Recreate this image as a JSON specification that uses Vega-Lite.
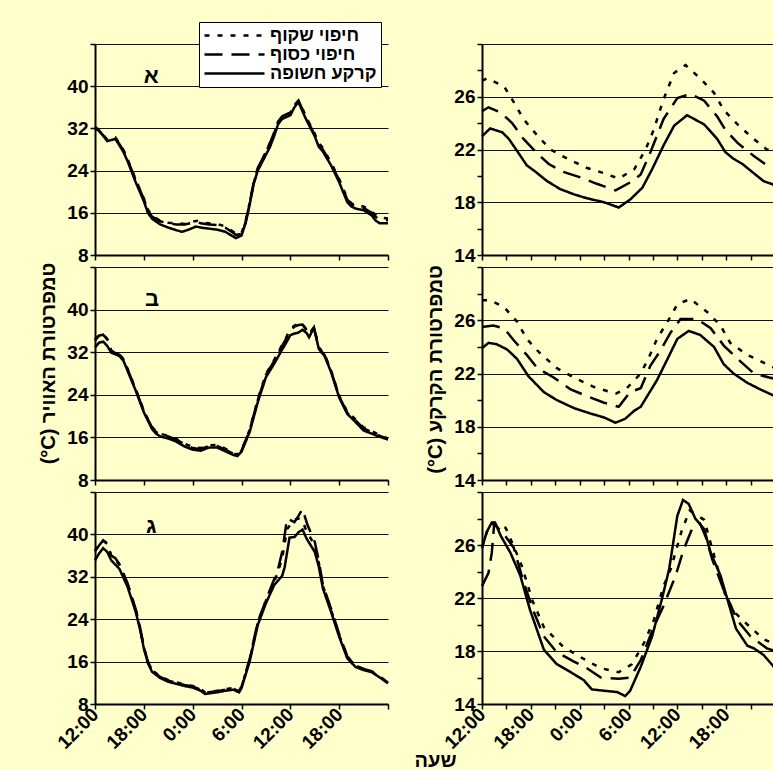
{
"$schema": "https://vega.github.io/schema/vega-lite/v6.json",
"background": "#FFFFCC",
"padding": {"left": 38, "top": 21, "right": 0, "bottom": 0},
"config": {
  "view": {"stroke": null},
  "font": "Liberation Sans",
  "axis": {"labelFont": "Liberation Sans", "labelFontSize": 19, "labelFontWeight": "bold", "labelColor": "#000", "titleFont": "Liberation Sans", "titleFontSize": 20, "titleFontWeight": "bold", "titleColor": "#000", "domainColor": "#000", "domainWidth": 2, "tickColor": "#000", "tickWidth": 1.5, "tickSize": 5, "gridColor": "#111", "gridWidth": 1, "labelOverlap": false, "labelFlush": false, "labelPadding": 2}
},
"datasets": {
"a1": [
{"s":"B","h":0,"v":32.0},{"s":"B","h":0.5,"v":31.5},{"s":"B","h":1,"v":30.6},{"s":"B","h":1.5,"v":29.6},{"s":"B","h":2,"v":29.8},{"s":"B","h":2.5,"v":30.0},{"s":"B","h":3,"v":28.8},{"s":"B","h":3.5,"v":27.5},{"s":"B","h":4,"v":25.8},{"s":"B","h":5,"v":21.8},{"s":"B","h":6,"v":18.2},{"s":"B","h":6.5,"v":16.0},{"s":"B","h":7,"v":14.9},{"s":"B","h":8,"v":13.8},{"s":"B","h":9,"v":13.2},{"s":"B","h":10,"v":12.7},{"s":"B","h":10.7,"v":12.4},{"s":"B","h":11.5,"v":12.8},{"s":"B","h":12.4,"v":13.4},{"s":"B","h":13,"v":13.2},{"s":"B","h":14,"v":13.0},{"s":"B","h":15,"v":12.8},{"s":"B","h":16,"v":12.4},{"s":"B","h":17,"v":11.5},{"s":"B","h":17.3,"v":11.2},{"s":"B","h":18,"v":11.7},{"s":"B","h":18.5,"v":14.0},{"s":"B","h":19,"v":17.5},{"s":"B","h":19.5,"v":21.5},{"s":"B","h":20,"v":24.0},{"s":"B","h":21,"v":27.0},{"s":"B","h":21.5,"v":28.5},{"s":"B","h":22,"v":30.5},{"s":"B","h":22.5,"v":32.8},{"s":"B","h":23,"v":33.8},{"s":"B","h":24,"v":34.5},{"s":"B","h":24.5,"v":36.0},{"s":"B","h":25,"v":37.0},{"s":"B","h":25.5,"v":35.2},{"s":"B","h":26,"v":33.5},{"s":"B","h":27,"v":30.5},{"s":"B","h":27.5,"v":28.5},{"s":"B","h":28,"v":27.6},{"s":"B","h":29,"v":25.0},{"s":"B","h":30,"v":21.8},{"s":"B","h":31,"v":18.0},{"s":"B","h":31.5,"v":17.2},{"s":"B","h":32,"v":16.8},{"s":"B","h":33,"v":16.5},{"s":"B","h":34,"v":15.5},{"s":"B","h":34.5,"v":14.5},{"s":"B","h":35,"v":14.0},{"s":"B","h":36,"v":14.0},
{"s":"S","h":0,"v":32.2},{"s":"S","h":0.5,"v":31.6},{"s":"S","h":1,"v":30.7},{"s":"S","h":1.5,"v":29.8},{"s":"S","h":2,"v":30.0},{"s":"S","h":2.5,"v":30.2},{"s":"S","h":3,"v":29.0},{"s":"S","h":3.5,"v":27.8},{"s":"S","h":4,"v":26.1},{"s":"S","h":5,"v":22.2},{"s":"S","h":6,"v":18.6},{"s":"S","h":6.5,"v":16.4},{"s":"S","h":7,"v":15.3},{"s":"S","h":8,"v":14.4},{"s":"S","h":9,"v":14.0},{"s":"S","h":10,"v":13.8},{"s":"S","h":11,"v":13.8},{"s":"S","h":12,"v":14.1},{"s":"S","h":12.5,"v":14.3},{"s":"S","h":13,"v":14.0},{"s":"S","h":14,"v":13.8},{"s":"S","h":15,"v":13.7},{"s":"S","h":16,"v":13.2},{"s":"S","h":17,"v":12.2},{"s":"S","h":17.3,"v":11.8},{"s":"S","h":18,"v":12.0},{"s":"S","h":18.5,"v":14.2},{"s":"S","h":19,"v":17.8},{"s":"S","h":19.5,"v":21.8},{"s":"S","h":20,"v":24.5},{"s":"S","h":21,"v":27.5},{"s":"S","h":21.5,"v":29.2},{"s":"S","h":22,"v":31.2},{"s":"S","h":22.5,"v":33.3},{"s":"S","h":23,"v":34.3},{"s":"S","h":24,"v":35.0},{"s":"S","h":24.5,"v":36.4},{"s":"S","h":25,"v":37.3},{"s":"S","h":25.5,"v":35.6},{"s":"S","h":26,"v":33.8},{"s":"S","h":27,"v":30.8},{"s":"S","h":27.5,"v":28.8},{"s":"S","h":28,"v":28.0},{"s":"S","h":29,"v":25.3},{"s":"S","h":30,"v":22.2},{"s":"S","h":31,"v":18.5},{"s":"S","h":31.5,"v":17.6},{"s":"S","h":32,"v":17.2},{"s":"S","h":33,"v":16.9},{"s":"S","h":34,"v":16.0},{"s":"S","h":34.5,"v":15.2},{"s":"S","h":35,"v":14.8},{"s":"S","h":36,"v":14.6},
{"s":"T","h":0,"v":32.3},{"s":"T","h":0.5,"v":31.7},{"s":"T","h":1,"v":30.8},{"s":"T","h":1.5,"v":29.9},{"s":"T","h":2,"v":30.1},{"s":"T","h":2.5,"v":30.3},{"s":"T","h":3,"v":29.1},{"s":"T","h":3.5,"v":27.9},{"s":"T","h":4,"v":26.2},{"s":"T","h":5,"v":22.3},{"s":"T","h":6,"v":18.7},{"s":"T","h":6.5,"v":16.6},{"s":"T","h":7,"v":15.5},{"s":"T","h":8,"v":14.5},{"s":"T","h":9,"v":14.1},{"s":"T","h":10,"v":14.0},{"s":"T","h":11,"v":13.9},{"s":"T","h":12,"v":14.3},{"s":"T","h":12.5,"v":14.5},{"s":"T","h":13,"v":14.2},{"s":"T","h":14,"v":14.0},{"s":"T","h":15,"v":13.9},{"s":"T","h":16,"v":13.4},{"s":"T","h":17,"v":12.4},{"s":"T","h":17.3,"v":12.0},{"s":"T","h":18,"v":12.2},{"s":"T","h":18.5,"v":14.4},{"s":"T","h":19,"v":17.9},{"s":"T","h":19.5,"v":21.6},{"s":"T","h":20,"v":24.3},{"s":"T","h":21,"v":27.6},{"s":"T","h":21.5,"v":29.3},{"s":"T","h":22,"v":31.0},{"s":"T","h":22.5,"v":33.2},{"s":"T","h":23,"v":34.2},{"s":"T","h":24,"v":35.0},{"s":"T","h":24.5,"v":36.3},{"s":"T","h":25,"v":37.2},{"s":"T","h":25.5,"v":35.7},{"s":"T","h":26,"v":34.0},{"s":"T","h":27,"v":31.0},{"s":"T","h":27.5,"v":29.2},{"s":"T","h":28,"v":28.3},{"s":"T","h":29,"v":25.5},{"s":"T","h":30,"v":22.4},{"s":"T","h":31,"v":18.7},{"s":"T","h":31.5,"v":17.8},{"s":"T","h":32,"v":17.4},{"s":"T","h":33,"v":17.2},{"s":"T","h":34,"v":16.2},{"s":"T","h":34.5,"v":15.6},{"s":"T","h":35,"v":15.1},{"s":"T","h":36,"v":14.9}
],
"a2": [
{"s":"B","h":0,"v":32.9},{"s":"B","h":0.5,"v":33.8},{"s":"B","h":1,"v":34.0},{"s":"B","h":1.5,"v":33.2},{"s":"B","h":2,"v":31.9},{"s":"B","h":3,"v":31.3},{"s":"B","h":3.5,"v":30.4},{"s":"B","h":4,"v":28.5},{"s":"B","h":5,"v":24.8},{"s":"B","h":6,"v":20.7},{"s":"B","h":7,"v":17.6},{"s":"B","h":7.5,"v":16.7},{"s":"B","h":8,"v":16.2},{"s":"B","h":9,"v":15.8},{"s":"B","h":10,"v":15.2},{"s":"B","h":11,"v":14.3},{"s":"B","h":12,"v":13.7},{"s":"B","h":13,"v":13.5},{"s":"B","h":14,"v":14.1},{"s":"B","h":15,"v":14.1},{"s":"B","h":16,"v":13.4},{"s":"B","h":17,"v":12.7},{"s":"B","h":17.5,"v":12.5},{"s":"B","h":18,"v":13.3},{"s":"B","h":19,"v":17.0},{"s":"B","h":20,"v":22.6},{"s":"B","h":21,"v":27.3},{"s":"B","h":22,"v":29.8},{"s":"B","h":23,"v":32.5},{"s":"B","h":23.5,"v":33.8},{"s":"B","h":24,"v":35.2},{"s":"B","h":24.5,"v":35.5},{"s":"B","h":25,"v":35.7},{"s":"B","h":25.5,"v":36.2},{"s":"B","h":26,"v":35.6},{"s":"B","h":26.3,"v":34.8},{"s":"B","h":26.9,"v":36.6},{"s":"B","h":27.5,"v":32.6},{"s":"B","h":28.2,"v":31.3},{"s":"B","h":29,"v":28.3},{"s":"B","h":30,"v":23.5},{"s":"B","h":31,"v":20.4},{"s":"B","h":32,"v":18.9},{"s":"B","h":33,"v":17.3},{"s":"B","h":34,"v":16.7},{"s":"B","h":35,"v":16.1},{"s":"B","h":36,"v":15.6},
{"s":"S","h":0,"v":34.2},{"s":"S","h":0.5,"v":35.1},{"s":"S","h":1,"v":35.3},{"s":"S","h":1.5,"v":34.4},{"s":"S","h":2,"v":32.2},{"s":"S","h":3,"v":31.5},{"s":"S","h":3.5,"v":30.6},{"s":"S","h":4,"v":28.8},{"s":"S","h":5,"v":25.0},{"s":"S","h":6,"v":20.9},{"s":"S","h":7,"v":17.9},{"s":"S","h":7.5,"v":17.0},{"s":"S","h":8,"v":16.6},{"s":"S","h":9,"v":16.2},{"s":"S","h":10,"v":15.6},{"s":"S","h":11,"v":14.7},{"s":"S","h":12,"v":14.0},{"s":"S","h":13,"v":13.8},{"s":"S","h":14,"v":14.4},{"s":"S","h":15,"v":14.4},{"s":"S","h":16,"v":13.7},{"s":"S","h":17,"v":12.9},{"s":"S","h":17.5,"v":12.7},{"s":"S","h":18,"v":13.5},{"s":"S","h":19,"v":17.3},{"s":"S","h":20,"v":23.0},{"s":"S","h":21,"v":27.7},{"s":"S","h":22,"v":30.3},{"s":"S","h":23,"v":33.2},{"s":"S","h":23.5,"v":34.6},{"s":"S","h":24,"v":36.0},{"s":"S","h":24.5,"v":36.8},{"s":"S","h":25,"v":37.1},{"s":"S","h":25.5,"v":37.2},{"s":"S","h":26,"v":36.1},{"s":"S","h":26.3,"v":35.3},{"s":"S","h":26.9,"v":36.6},{"s":"S","h":27.5,"v":32.8},{"s":"S","h":28.2,"v":31.5},{"s":"S","h":29,"v":28.5},{"s":"S","h":30,"v":23.7},{"s":"S","h":31,"v":20.6},{"s":"S","h":32,"v":19.2},{"s":"S","h":33,"v":17.7},{"s":"S","h":34,"v":17.0},{"s":"S","h":35,"v":16.3},{"s":"S","h":36,"v":15.7},
{"s":"T","h":0,"v":34.4},{"s":"T","h":0.5,"v":35.2},{"s":"T","h":1,"v":35.4},{"s":"T","h":1.5,"v":34.5},{"s":"T","h":2,"v":32.3},{"s":"T","h":3,"v":31.6},{"s":"T","h":3.5,"v":30.7},{"s":"T","h":4,"v":28.9},{"s":"T","h":5,"v":25.1},{"s":"T","h":6,"v":21.0},{"s":"T","h":7,"v":18.0},{"s":"T","h":7.5,"v":17.1},{"s":"T","h":8,"v":16.7},{"s":"T","h":9,"v":16.3},{"s":"T","h":10,"v":15.7},{"s":"T","h":11,"v":14.8},{"s":"T","h":12,"v":14.2},{"s":"T","h":13,"v":14.0},{"s":"T","h":14,"v":14.5},{"s":"T","h":15,"v":14.6},{"s":"T","h":16,"v":13.9},{"s":"T","h":17,"v":13.0},{"s":"T","h":17.5,"v":12.8},{"s":"T","h":18,"v":13.6},{"s":"T","h":19,"v":17.4},{"s":"T","h":20,"v":23.2},{"s":"T","h":21,"v":27.9},{"s":"T","h":22,"v":30.5},{"s":"T","h":23,"v":33.4},{"s":"T","h":23.5,"v":34.8},{"s":"T","h":24,"v":36.3},{"s":"T","h":24.5,"v":37.0},{"s":"T","h":25,"v":37.3},{"s":"T","h":25.5,"v":37.3},{"s":"T","h":26,"v":36.2},{"s":"T","h":26.3,"v":35.4},{"s":"T","h":26.9,"v":36.7},{"s":"T","h":27.5,"v":32.9},{"s":"T","h":28.2,"v":31.6},{"s":"T","h":29,"v":28.6},{"s":"T","h":30,"v":23.8},{"s":"T","h":31,"v":20.8},{"s":"T","h":32,"v":19.4},{"s":"T","h":33,"v":17.9},{"s":"T","h":34,"v":17.2},{"s":"T","h":35,"v":16.4},{"s":"T","h":36,"v":15.8}
],
"a3": [
{"s":"B","h":0,"v":35.1},{"s":"B","h":0.5,"v":36.4},{"s":"B","h":1,"v":37.4},{"s":"B","h":1.5,"v":36.7},{"s":"B","h":2,"v":35.1},{"s":"B","h":3,"v":33.5},{"s":"B","h":4,"v":30.1},{"s":"B","h":5,"v":25.4},{"s":"B","h":5.5,"v":22.3},{"s":"B","h":6,"v":18.5},{"s":"B","h":6.5,"v":15.7},{"s":"B","h":7,"v":14.1},{"s":"B","h":8,"v":12.9},{"s":"B","h":9,"v":12.2},{"s":"B","h":10,"v":11.8},{"s":"B","h":11,"v":11.4},{"s":"B","h":12,"v":11.1},{"s":"B","h":13,"v":10.5},{"s":"B","h":13.5,"v":9.9},{"s":"B","h":14,"v":10.0},{"s":"B","h":15,"v":10.2},{"s":"B","h":16,"v":10.5},{"s":"B","h":17,"v":10.7},{"s":"B","h":17.7,"v":10.2},{"s":"B","h":18,"v":11.0},{"s":"B","h":19,"v":16.0},{"s":"B","h":20,"v":22.9},{"s":"B","h":21,"v":27.0},{"s":"B","h":22,"v":30.4},{"s":"B","h":23,"v":32.2},{"s":"B","h":23.3,"v":33.8},{"s":"B","h":23.9,"v":39.4},{"s":"B","h":24.5,"v":39.5},{"s":"B","h":25,"v":40.4},{"s":"B","h":25.5,"v":40.9},{"s":"B","h":26,"v":39.2},{"s":"B","h":27,"v":36.7},{"s":"B","h":27.5,"v":33.9},{"s":"B","h":28,"v":29.8},{"s":"B","h":29,"v":25.4},{"s":"B","h":30,"v":20.7},{"s":"B","h":31,"v":16.6},{"s":"B","h":32,"v":15.0},{"s":"B","h":33,"v":14.4},{"s":"B","h":34,"v":14.0},{"s":"B","h":35,"v":13.0},{"s":"B","h":36,"v":11.9},
{"s":"S","h":0,"v":36.8},{"s":"S","h":0.5,"v":37.9},{"s":"S","h":1,"v":38.9},{"s":"S","h":1.5,"v":38.3},{"s":"S","h":2,"v":36.0},{"s":"S","h":2.5,"v":35.5},{"s":"S","h":3,"v":34.4},{"s":"S","h":4,"v":30.8},{"s":"S","h":5,"v":25.9},{"s":"S","h":5.5,"v":22.7},{"s":"S","h":6,"v":18.8},{"s":"S","h":6.5,"v":16.0},{"s":"S","h":7,"v":14.4},{"s":"S","h":8,"v":13.1},{"s":"S","h":9,"v":12.4},{"s":"S","h":10,"v":12.0},{"s":"S","h":11,"v":11.6},{"s":"S","h":12,"v":11.3},{"s":"S","h":13,"v":10.7},{"s":"S","h":13.5,"v":10.1},{"s":"S","h":14,"v":10.2},{"s":"S","h":15,"v":10.4},{"s":"S","h":16,"v":10.7},{"s":"S","h":17,"v":10.9},{"s":"S","h":17.7,"v":10.4},{"s":"S","h":18,"v":11.2},{"s":"S","h":19,"v":16.5},{"s":"S","h":20,"v":23.5},{"s":"S","h":21,"v":27.6},{"s":"S","h":22,"v":31.5},{"s":"S","h":22.5,"v":33.5},{"s":"S","h":23,"v":36.7},{"s":"S","h":23.6,"v":43.0},{"s":"S","h":24.5,"v":42.3},{"s":"S","h":25,"v":43.5},{"s":"S","h":25.5,"v":44.8},{"s":"S","h":26.1,"v":41.8},{"s":"S","h":27,"v":38.6},{"s":"S","h":27.5,"v":35.0},{"s":"S","h":28,"v":30.5},{"s":"S","h":29,"v":26.0},{"s":"S","h":30,"v":21.2},{"s":"S","h":31,"v":17.0},{"s":"S","h":32,"v":15.3},{"s":"S","h":33,"v":14.6},{"s":"S","h":34,"v":14.2},{"s":"S","h":35,"v":13.2},{"s":"S","h":36,"v":12.0},
{"s":"T","h":0,"v":36.9},{"s":"T","h":0.5,"v":38.0},{"s":"T","h":1,"v":38.8},{"s":"T","h":1.5,"v":38.2},{"s":"T","h":2,"v":35.8},{"s":"T","h":2.5,"v":35.3},{"s":"T","h":3,"v":34.2},{"s":"T","h":4,"v":30.6},{"s":"T","h":5,"v":25.8},{"s":"T","h":5.5,"v":22.6},{"s":"T","h":6,"v":18.7},{"s":"T","h":6.5,"v":15.9},{"s":"T","h":7,"v":14.4},{"s":"T","h":8,"v":13.2},{"s":"T","h":9,"v":12.5},{"s":"T","h":10,"v":12.1},{"s":"T","h":11,"v":11.7},{"s":"T","h":12,"v":11.4},{"s":"T","h":13,"v":10.8},{"s":"T","h":13.5,"v":10.2},{"s":"T","h":14,"v":10.3},{"s":"T","h":15,"v":10.5},{"s":"T","h":16,"v":10.8},{"s":"T","h":17,"v":11.0},{"s":"T","h":17.7,"v":10.5},{"s":"T","h":18,"v":11.3},{"s":"T","h":19,"v":16.3},{"s":"T","h":20,"v":23.3},{"s":"T","h":21,"v":27.5},{"s":"T","h":22,"v":31.0},{"s":"T","h":22.5,"v":33.0},{"s":"T","h":23,"v":35.5},{"s":"T","h":23.6,"v":41.0},{"s":"T","h":24.5,"v":42.8},{"s":"T","h":25,"v":43.0},{"s":"T","h":25.5,"v":42.6},{"s":"T","h":26,"v":40.5},{"s":"T","h":27,"v":38.0},{"s":"T","h":27.5,"v":34.6},{"s":"T","h":28,"v":30.3},{"s":"T","h":29,"v":25.8},{"s":"T","h":30,"v":21.0},{"s":"T","h":31,"v":16.9},{"s":"T","h":32,"v":15.2},{"s":"T","h":33,"v":14.6},{"s":"T","h":34,"v":14.1},{"s":"T","h":35,"v":13.1},{"s":"T","h":36,"v":12.0}
],
"s1": [
{"s":"B","h":0,"v":23.0},{"s":"B","h":1,"v":23.6},{"s":"B","h":2.5,"v":23.3},{"s":"B","h":3.3,"v":22.8},{"s":"B","h":4.3,"v":21.9},{"s":"B","h":5.5,"v":20.8},{"s":"B","h":6.6,"v":20.3},{"s":"B","h":8,"v":19.6},{"s":"B","h":9.6,"v":19.0},{"s":"B","h":11.3,"v":18.6},{"s":"B","h":12.9,"v":18.3},{"s":"B","h":15,"v":18.0},{"s":"B","h":16.8,"v":17.6},{"s":"B","h":18.2,"v":18.2},{"s":"B","h":19.7,"v":19.1},{"s":"B","h":20.9,"v":20.5},{"s":"B","h":22.3,"v":22.3},{"s":"B","h":23.6,"v":23.8},{"s":"B","h":25.2,"v":24.6},{"s":"B","h":27.3,"v":23.9},{"s":"B","h":28.9,"v":22.8},{"s":"B","h":29.9,"v":21.8},{"s":"B","h":30.9,"v":21.3},{"s":"B","h":32,"v":20.9},{"s":"B","h":33.2,"v":20.3},{"s":"B","h":34.6,"v":19.6},{"s":"B","h":36,"v":19.3},
{"s":"S","h":0,"v":24.9},{"s":"S","h":0.8,"v":25.2},{"s":"S","h":2.3,"v":24.8},{"s":"S","h":3.7,"v":24.0},{"s":"S","h":5.1,"v":22.8},{"s":"S","h":6.8,"v":21.7},{"s":"S","h":8.2,"v":20.9},{"s":"S","h":10,"v":20.3},{"s":"S","h":12.5,"v":19.8},{"s":"S","h":14.1,"v":19.4},{"s":"S","h":16.4,"v":18.9},{"s":"S","h":18.2,"v":19.5},{"s":"S","h":19.5,"v":20.1},{"s":"S","h":20.7,"v":21.8},{"s":"S","h":22.3,"v":24.3},{"s":"S","h":24,"v":25.9},{"s":"S","h":25.6,"v":26.2},{"s":"S","h":27.3,"v":25.7},{"s":"S","h":28.9,"v":24.5},{"s":"S","h":29.9,"v":23.5},{"s":"S","h":31.4,"v":22.5},{"s":"S","h":33.4,"v":21.5},{"s":"S","h":35,"v":20.8},{"s":"S","h":36,"v":20.7},
{"s":"T","h":0,"v":27.2},{"s":"T","h":0.6,"v":27.4},{"s":"T","h":2.7,"v":26.8},{"s":"T","h":3.9,"v":25.6},{"s":"T","h":5.1,"v":24.3},{"s":"T","h":6.6,"v":23.2},{"s":"T","h":8.4,"v":22.0},{"s":"T","h":10.5,"v":21.3},{"s":"T","h":12.9,"v":20.6},{"s":"T","h":15,"v":20.2},{"s":"T","h":16.8,"v":19.8},{"s":"T","h":18.7,"v":20.5},{"s":"T","h":20.1,"v":22.0},{"s":"T","h":21.1,"v":23.5},{"s":"T","h":22.3,"v":25.8},{"s":"T","h":23.6,"v":27.8},{"s":"T","h":25,"v":28.4},{"s":"T","h":26.8,"v":27.4},{"s":"T","h":28.5,"v":26.3},{"s":"T","h":29.7,"v":25.0},{"s":"T","h":31.4,"v":23.9},{"s":"T","h":33.2,"v":22.9},{"s":"T","h":35,"v":22.0},{"s":"T","h":36,"v":21.8}
],
"s2": [
{"s":"B","h":0,"v":23.9},{"s":"B","h":0.8,"v":24.3},{"s":"B","h":1.8,"v":24.2},{"s":"B","h":3.1,"v":23.8},{"s":"B","h":4.3,"v":23.1},{"s":"B","h":5.7,"v":21.8},{"s":"B","h":7.6,"v":20.6},{"s":"B","h":9.2,"v":20.0},{"s":"B","h":11.3,"v":19.4},{"s":"B","h":13.3,"v":19.0},{"s":"B","h":15,"v":18.7},{"s":"B","h":16.4,"v":18.3},{"s":"B","h":17.6,"v":18.6},{"s":"B","h":18.7,"v":19.2},{"s":"B","h":19.5,"v":19.5},{"s":"B","h":20.5,"v":20.5},{"s":"B","h":21.5,"v":21.5},{"s":"B","h":22.8,"v":23.1},{"s":"B","h":24,"v":24.6},{"s":"B","h":25.4,"v":25.2},{"s":"B","h":26.8,"v":24.9},{"s":"B","h":28.5,"v":24.0},{"s":"B","h":29.7,"v":22.7},{"s":"B","h":30.9,"v":22.0},{"s":"B","h":32.6,"v":21.3},{"s":"B","h":34.2,"v":20.8},{"s":"B","h":36,"v":20.3},
{"s":"S","h":0,"v":25.5},{"s":"S","h":1.4,"v":25.6},{"s":"S","h":2.7,"v":25.4},{"s":"S","h":3.9,"v":24.5},{"s":"S","h":5.5,"v":23.4},{"s":"S","h":6.8,"v":22.4},{"s":"S","h":8.8,"v":21.7},{"s":"S","h":10.9,"v":20.8},{"s":"S","h":12.9,"v":20.3},{"s":"S","h":15,"v":19.8},{"s":"S","h":16.8,"v":19.5},{"s":"S","h":18.2,"v":20.6},{"s":"S","h":19.5,"v":20.9},{"s":"S","h":20.7,"v":22.6},{"s":"S","h":21.9,"v":23.7},{"s":"S","h":23.2,"v":25.1},{"s":"S","h":24.4,"v":26.1},{"s":"S","h":26.4,"v":26.1},{"s":"S","h":28.1,"v":25.4},{"s":"S","h":29.7,"v":24.1},{"s":"S","h":31.4,"v":23.1},{"s":"S","h":33.4,"v":22.0},{"s":"S","h":35.3,"v":21.7},{"s":"S","h":36,"v":21.6},
{"s":"T","h":0,"v":27.5},{"s":"T","h":1,"v":27.5},{"s":"T","h":2.7,"v":27.0},{"s":"T","h":4.3,"v":25.9},{"s":"T","h":5.5,"v":24.6},{"s":"T","h":7,"v":23.6},{"s":"T","h":9.2,"v":22.4},{"s":"T","h":11.3,"v":21.7},{"s":"T","h":13.7,"v":21.0},{"s":"T","h":15.8,"v":20.6},{"s":"T","h":16.5,"v":20.5},{"s":"T","h":17.8,"v":20.9},{"s":"T","h":19.5,"v":22.0},{"s":"T","h":20.5,"v":23.2},{"s":"T","h":21.5,"v":24.6},{"s":"T","h":23,"v":26.1},{"s":"T","h":24,"v":27.2},{"s":"T","h":25.6,"v":27.6},{"s":"T","h":27.7,"v":26.6},{"s":"T","h":29.3,"v":25.6},{"s":"T","h":30.5,"v":24.3},{"s":"T","h":32.6,"v":23.4},{"s":"T","h":35,"v":22.7},{"s":"T","h":36,"v":22.4}
],
"s3": [
{"s":"B","h":0,"v":25.8},{"s":"B","h":0.6,"v":27.0},{"s":"B","h":1.2,"v":27.7},{"s":"B","h":1.6,"v":27.7},{"s":"B","h":2.3,"v":26.7},{"s":"B","h":3.5,"v":25.4},{"s":"B","h":4.7,"v":23.7},{"s":"B","h":5.9,"v":21.1},{"s":"B","h":7.6,"v":18.1},{"s":"B","h":9.2,"v":17.0},{"s":"B","h":10.9,"v":16.4},{"s":"B","h":12.5,"v":15.8},{"s":"B","h":13.5,"v":15.1},{"s":"B","h":15,"v":15.0},{"s":"B","h":16.6,"v":14.9},{"s":"B","h":17.6,"v":14.6},{"s":"B","h":18.2,"v":15.0},{"s":"B","h":19.5,"v":16.8},{"s":"B","h":20.9,"v":19.1},{"s":"B","h":22.1,"v":21.9},{"s":"B","h":23,"v":24.2},{"s":"B","h":24,"v":28.2},{"s":"B","h":24.7,"v":29.4},{"s":"B","h":25.4,"v":29.1},{"s":"B","h":26.2,"v":28.0},{"s":"B","h":27.3,"v":27.2},{"s":"B","h":28.1,"v":25.4},{"s":"B","h":29.3,"v":23.7},{"s":"B","h":31.2,"v":19.7},{"s":"B","h":32.6,"v":18.4},{"s":"B","h":33.4,"v":18.2},{"s":"B","h":34.6,"v":17.7},{"s":"B","h":36,"v":16.7},
{"s":"S","h":0,"v":22.9},{"s":"S","h":0.8,"v":23.9},{"s":"S","h":1.2,"v":25.4},{"s":"S","h":1.5,"v":27.6},{"s":"S","h":2.7,"v":26.8},{"s":"S","h":3.9,"v":25.8},{"s":"S","h":5.1,"v":23.2},{"s":"S","h":6.4,"v":20.9},{"s":"S","h":7.6,"v":19.1},{"s":"S","h":9.2,"v":17.9},{"s":"S","h":11.3,"v":17.2},{"s":"S","h":12.9,"v":16.7},{"s":"S","h":14.6,"v":16.0},{"s":"S","h":16.8,"v":15.9},{"s":"S","h":18.2,"v":16.0},{"s":"S","h":19.5,"v":17.3},{"s":"S","h":21.1,"v":19.8},{"s":"S","h":22.3,"v":21.4},{"s":"S","h":23.8,"v":23.7},{"s":"S","h":24.8,"v":25.7},{"s":"S","h":25.8,"v":27.2},{"s":"S","h":26.8,"v":27.6},{"s":"S","h":27.5,"v":26.6},{"s":"S","h":28.3,"v":24.9},{"s":"S","h":29.7,"v":22.6},{"s":"S","h":31.4,"v":20.3},{"s":"S","h":33,"v":19.1},{"s":"S","h":35,"v":18.2},{"s":"S","h":36,"v":18.0},
{"s":"T","h":0,"v":25.8},{"s":"T","h":0.6,"v":27.0},{"s":"T","h":1.2,"v":27.6},{"s":"T","h":1.8,"v":27.5},{"s":"T","h":2.9,"v":27.3},{"s":"T","h":3.9,"v":25.9},{"s":"T","h":4.9,"v":24.4},{"s":"T","h":6.2,"v":21.8},{"s":"T","h":7.6,"v":19.8},{"s":"T","h":10,"v":18.3},{"s":"T","h":12.5,"v":17.4},{"s":"T","h":14.6,"v":16.7},{"s":"T","h":16.8,"v":16.4},{"s":"T","h":18.4,"v":17.0},{"s":"T","h":19.9,"v":18.6},{"s":"T","h":21.1,"v":20.3},{"s":"T","h":22.3,"v":22.9},{"s":"T","h":23.2,"v":24.2},{"s":"T","h":24.5,"v":27.0},{"s":"T","h":25.5,"v":28.6},{"s":"T","h":27.3,"v":27.9},{"s":"T","h":28.2,"v":25.9},{"s":"T","h":29.8,"v":22.4},{"s":"T","h":30.9,"v":21.0},{"s":"T","h":32.6,"v":20.0},{"s":"T","h":34.6,"v":18.9},{"s":"T","h":36,"v":18.5}
]
},
"spacing": 18,
"resolve": {"scale": {"strokeDash": "independent"}, "legend": {"strokeDash": "independent"}},
"hconcat": [
{
 "bounds": "flush",
 "spacing": 12,
 "resolve": {"scale": {"strokeDash": "independent"}, "legend": {"strokeDash": "independent"}},
 "vconcat": [
  {"width": 293, "height": 211, "data": {"name": "a1"},
   "layer": [
    {"mark": {"type": "line", "color": "black", "strokeWidth": 2.5},
     "encoding": {
      "x": {"field": "h", "type": "quantitative", "scale": {"domain": [0, 36], "nice": false}, "axis": {"values": [0,3,6,9,12,15,18,21,24,27,30,33,36], "labels": false, "grid": false, "title": null}},
      "y": {"field": "v", "type": "quantitative", "scale": {"domain": [8, 48], "nice": false, "zero": false}, "axis": {"values": [8,12,16,20,24,28,32,36,40,44,48], "labelExpr": "datum.value % 8 == 0 && datum.value <= 40 ? datum.label : ''", "grid": true, "gridOpacity": {"condition": {"test": "datum.value % 8 == 0", "value": 1}, "value": 0}, "title": null}},
      "strokeDash": {"field": "s", "type": "nominal", "scale": {"domain": ["T", "S", "B"], "range": [[5, 8], [18, 9], [1, 0]]},
       "legend": {"orient": "none", "legendX": 104, "legendY": -22, "title": null, "symbolType": "stroke", "symbolSize": 3600, "symbolStrokeWidth": 2.5, "symbolStrokeColor": "black", "clipHeight": 19, "rowPadding": 0, "padding": 4, "labelOffset": 4, "labelFont": "Liberation Sans", "labelFontSize": 18, "labelFontWeight": "bold", "labelColor": "black", "labelLimit": 300, "fillColor": "white", "strokeColor": "black", "labelExpr": "datum.value == 'T' ? 'חיפוי שקוף' : datum.value == 'S' ? 'חיפוי כסוף' : 'קרקע חשופה'"}}
     }},
    {"data": {"values": [{}]}, "mark": {"type": "text", "font": "Liberation Sans", "fontSize": 22, "fontWeight": "bold", "color": "black"},
     "encoding": {"x": {"datum": 6.9}, "y": {"datum": 42}, "text": {"value": "א"}}}
   ]},
  {"width": 293, "height": 213, "data": {"name": "a2"},
   "layer": [
    {"mark": {"type": "line", "color": "black", "strokeWidth": 2.5},
     "encoding": {
      "x": {"field": "h", "type": "quantitative", "scale": {"domain": [0, 36], "nice": false}, "axis": {"values": [0,3,6,9,12,15,18,21,24,27,30,33,36], "labels": false, "grid": false, "title": null}},
      "y": {"field": "v", "type": "quantitative", "scale": {"domain": [8, 48], "nice": false, "zero": false}, "axis": {"values": [8,12,16,20,24,28,32,36,40,44,48], "labelExpr": "datum.value % 8 == 0 && datum.value <= 40 ? datum.label : ''", "grid": true, "gridOpacity": {"condition": {"test": "datum.value % 8 == 0", "value": 1}, "value": 0}, "title": "(°C) טמפרטורת האוויר", "titlePadding": 8, "titleY": 96}},
      "strokeDash": {"field": "s", "type": "nominal", "scale": {"domain": ["T", "S", "B"], "range": [[5, 8], [18, 9], [1, 0]]}, "legend": null}
     }},
    {"data": {"values": [{}]}, "mark": {"type": "text", "font": "Liberation Sans", "fontSize": 22, "fontWeight": "bold", "color": "black"},
     "encoding": {"x": {"datum": 7.0}, "y": {"datum": 41.9}, "text": {"value": "ב"}}}
   ]},
  {"width": 293, "height": 212, "data": {"name": "a3"},
   "layer": [
    {"mark": {"type": "line", "color": "black", "strokeWidth": 2.5},
     "encoding": {
      "x": {"field": "h", "type": "quantitative", "scale": {"domain": [0, 36], "nice": false}, "axis": {"values": [0,3,6,9,12,15,18,21,24,27,30,33,36], "labelExpr": "datum.value == 0 || datum.value == 24 ? '12:00' : datum.value == 6 || datum.value == 30 ? '18:00' : datum.value == 12 ? '0:00' : datum.value == 18 ? '6:00' : ''", "labelAngle": -45, "labelAlign": "right", "labelBaseline": "middle", "grid": false, "title": null}},
      "y": {"field": "v", "type": "quantitative", "scale": {"domain": [8, 48], "nice": false, "zero": false}, "axis": {"values": [8,12,16,20,24,28,32,36,40,44,48], "labelExpr": "datum.value % 8 == 0 && datum.value <= 40 ? datum.label : ''", "grid": true, "gridOpacity": {"condition": {"test": "datum.value % 8 == 0", "value": 1}, "value": 0}, "title": null}},
      "strokeDash": {"field": "s", "type": "nominal", "scale": {"domain": ["T", "S", "B"], "range": [[5, 8], [18, 9], [1, 0]]}, "legend": null}
     }},
    {"data": {"values": [{}]}, "mark": {"type": "text", "font": "Liberation Sans", "fontSize": 22, "fontWeight": "bold", "color": "black"},
     "encoding": {"x": {"datum": 6.9}, "y": {"datum": 41.6}, "text": {"value": "ג"}}}
   ]}
 ]
},
{
 "bounds": "flush",
 "spacing": 12,
 "resolve": {"scale": {"strokeDash": "independent"}, "legend": {"strokeDash": "independent"}},
 "vconcat": [
  {"width": 293, "height": 211, "data": {"name": "s1"},
   "mark": {"type": "line", "color": "black", "strokeWidth": 2.5},
   "encoding": {
    "x": {"field": "h", "type": "quantitative", "scale": {"domain": [0, 36], "nice": false}, "axis": {"values": [0,3,6,9,12,15,18,21,24,27,30,33,36], "labels": false, "grid": false, "title": null}},
    "y": {"field": "v", "type": "quantitative", "scale": {"domain": [14, 30], "nice": false, "zero": false}, "axis": {"values": [14,16,18,20,22,24,26,28,30], "labelExpr": "(datum.value - 14) % 4 == 0 && datum.value <= 26 ? datum.label : ''", "grid": true, "gridOpacity": {"condition": {"test": "(datum.value - 14) % 4 == 0", "value": 1}, "value": 0}, "title": null}},
    "strokeDash": {"field": "s", "type": "nominal", "scale": {"domain": ["T", "S", "B"], "range": [[5, 8], [18, 9], [1, 0]]}, "legend": null}
   }},
  {"width": 293, "height": 213, "data": {"name": "s2"},
   "mark": {"type": "line", "color": "black", "strokeWidth": 2.5},
   "encoding": {
    "x": {"field": "h", "type": "quantitative", "scale": {"domain": [0, 36], "nice": false}, "axis": {"values": [0,3,6,9,12,15,18,21,24,27,30,33,36], "labels": false, "grid": false, "title": null}},
    "y": {"field": "v", "type": "quantitative", "scale": {"domain": [14, 30], "nice": false, "zero": false}, "axis": {"values": [14,16,18,20,22,24,26,28,30], "labelExpr": "(datum.value - 14) % 4 == 0 && datum.value <= 26 ? datum.label : ''", "grid": true, "gridOpacity": {"condition": {"test": "(datum.value - 14) % 4 == 0", "value": 1}, "value": 0}, "title": "(°C) טמפרטורת הקרקע", "titlePadding": 8, "titleY": 102}},
    "strokeDash": {"field": "s", "type": "nominal", "scale": {"domain": ["T", "S", "B"], "range": [[5, 8], [18, 9], [1, 0]]}, "legend": null}
   }},
  {"width": 293, "height": 212, "data": {"name": "s3"},
   "mark": {"type": "line", "color": "black", "strokeWidth": 2.5},
   "encoding": {
    "x": {"field": "h", "type": "quantitative", "scale": {"domain": [0, 36], "nice": false}, "axis": {"values": [0,3,6,9,12,15,18,21,24,27,30,33,36], "labelExpr": "datum.value == 0 || datum.value == 24 ? '12:00' : datum.value == 6 || datum.value == 30 ? '18:00' : datum.value == 12 ? '0:00' : datum.value == 18 ? '6:00' : ''", "labelAngle": -45, "labelAlign": "right", "labelBaseline": "middle", "grid": false, "title": "שעה", "titleX": -47, "titleY": 46, "titleAlign": "center", "titleBaseline": "top", "titleAngle": 0}},
    "y": {"field": "v", "type": "quantitative", "scale": {"domain": [14, 30], "nice": false, "zero": false}, "axis": {"values": [14,16,18,20,22,24,26,28,30], "labelExpr": "(datum.value - 14) % 4 == 0 && datum.value <= 26 ? datum.label : ''", "grid": true, "gridOpacity": {"condition": {"test": "(datum.value - 14) % 4 == 0", "value": 1}, "value": 0}, "title": null}},
    "strokeDash": {"field": "s", "type": "nominal", "scale": {"domain": ["T", "S", "B"], "range": [[5, 8], [18, 9], [1, 0]]}, "legend": null}
   }}
 ]
}
]
}
